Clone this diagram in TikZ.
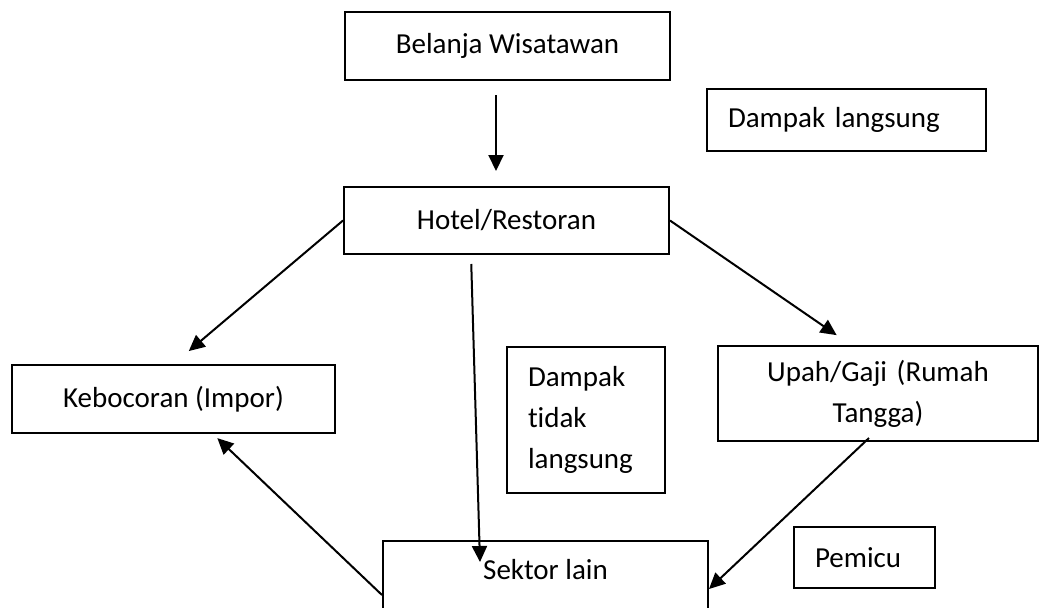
\documentclass[tikz,border=0pt]{standalone}
\usepackage{fontspec}
\setmainfont[Ligatures={NoCommon,NoContextual}]{Carlito}
\usetikzlibrary{arrows.meta}

\begin{document}
\begin{tikzpicture}[x=0.5pt,y=-0.5pt
  ,>={Triangle[length=8pt,width=7.5pt]}
  ,line width=1pt
  ,font=\fontsize{14.5}{20.5}\selectfont]
  \tikzstyle{box}=[draw,rectangle,inner sep=0pt,align=center]
  \tikzstyle{note}=[draw,rectangle,inner xsep=10.5pt,inner ysep=0pt,align=left]

  \clip (0,0) rectangle (1039,607);

  \node[box,minimum width=162.5pt,minimum height=34pt] (bel) at (507.5,46) {Belanja Wisatawan};
  \node[note,text width=118.5pt,minimum height=31pt] (dl) at (846.5,120) {Dampak langsung};
  \node[box,minimum width=162.5pt,minimum height=33.5pt] (hotel) at (506.5,220.5) {Hotel/Restoran};
  \node[box,minimum width=161.5pt,minimum height=34pt] (keb) at (173.5,399) {Kebocoran (Impor)};
  \node[note,text width=58pt,minimum height=73pt] (dtl) at (586,420) {Dampak\\tidak\\langsung};
  \node[box,text width=160pt,minimum height=47.5pt] (upah) at (878,393.5) {Upah/Gaji (Rumah\\Tangga)};
  \node[note,text width=49.5pt,minimum height=30.5pt] (pem) at (864.5,557.5) {Pemicu};
  \node[box,minimum width=162.5pt,text height=19pt,text depth=20pt,anchor=north] (sek) at (545.5,540) {Sektor lain};

  \path [->]
  ([xshift=-5.75pt]bel.south) edge [shorten <=7pt,shorten >=7.5pt] ([xshift=-5.25pt]hotel.north)
  (hotel.west) edge [shorten >=10pt]                    (keb.north)
  (hotel.east) edge [shorten >=8.7pt]                   ([xshift=-13.5pt]upah.north)
  ([xshift=-17.75pt]hotel.south) edge [shorten <=4.5pt] ([xshift=-32.75pt]sek.north |- 0,562)
  ([xshift=-4.5pt,yshift=2pt]upah.south) edge           (sek.east |- 0,589)
  (sek.west |- 0,595) edge [shorten >=3pt]              ([xshift=19.75pt]keb.south)
  ;

\end{tikzpicture}
\end{document}
